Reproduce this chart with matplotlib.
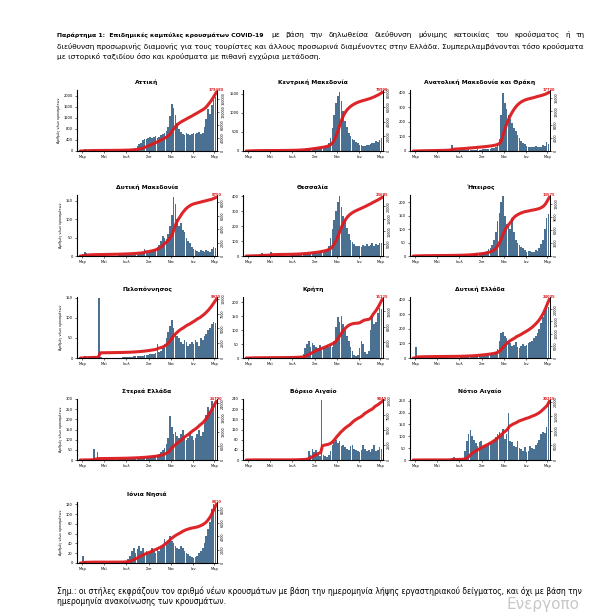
import matplotlib
matplotlib.use("Agg")
import matplotlib.pyplot as plt
from matplotlib.ticker import MaxNLocator
import numpy as np

plt.rcParams['font.family'] = ['DejaVu Sans']

# daily new cases, averaged over 5-day bins starting 25 Feb 2020
# (day numbers are counted from 1 Mar 2020)
bin_start = -5
bin_days = 5

month_ticks = [0, 61, 122, 184, 245, 306, 365]
month_labels = ["Μαρ", "Μαϊ", "Ιουλ", "Σεπ", "Νοε", "Ιαν", "Μαρ"]

attiki = [20, 45, 60, 50, 40, 30, 25,
          20, 15, 12, 10, 8, 8,
          8, 6, 6, 8, 10, 10,
          12, 15, 18, 20, 25, 30,
          35, 40, 50, 60, 80, 110,
          180, 240, 300, 380, 420, 450,
          480, 520, 460, 500, 540, 480,
          520, 560, 600, 650, 720, 880,
          1250, 1700, 1550, 1300, 1000,
          800, 700, 620, 580, 640, 600, 560, 620,
          660, 600, 640, 700, 620, 660,
          880, 1150, 1500, 1350, 1650, 1850,
          1950]

kentriki_makedonia = [5, 15, 25, 20, 15, 10, 8,
                      6, 5, 5, 4, 3, 3,
                      3, 3, 2, 3, 3, 4,
                      4, 5, 6, 6, 8, 10,
                      10, 12, 15, 20, 25, 30,
                      40, 50, 55, 60, 60, 65,
                      70, 75, 80, 70, 80, 90,
                      110, 140, 200, 350, 600, 950,
                      1250, 1450, 1550, 1300, 1050,
                      800, 620, 480, 400, 320, 280, 240, 200,
                      170, 150, 140, 130, 160, 150,
                      180, 200, 220, 250, 240, 300,
                      330]

an_makedonia_thraki = [0, 2, 4, 4, 3, 3, 2,
                       2, 2, 2, 1, 2, 3,
                       2, 2, 2, 3, 3, 4,
                       6, 12, 38, 14, 8, 6,
                       5, 6, 8, 8, 10, 12,
                       8, 10, 10, 9, 11, 10,
                       9, 11, 12, 14, 12, 15,
                       18, 22, 28, 40, 80, 250,
                       400, 330, 290, 250, 220,
                       190, 160, 140, 110, 90, 70, 55, 45,
                       35, 30, 28, 25, 30, 35,
                       30, 25, 30, 40, 35, 60,
                       45]

dyt_makedonia = [2, 6, 12, 8, 5, 3, 2,
                 2, 1, 1, 1, 1, 1,
                 1, 1, 1, 1, 1, 1,
                 1, 1, 2, 2, 2, 2,
                 2, 2, 3, 3, 3, 4,
                 4, 5, 6, 8, 20, 8,
                 8, 10, 12, 15, 20, 25,
                 30, 40, 55, 50, 45, 60,
                 80, 110, 160, 140, 100,
                 80, 90, 70, 65, 50, 40, 35, 25,
                 18, 15, 14, 12, 15, 14,
                 12, 15, 14, 12, 18, 25,
                 22]

thessalia = [1, 3, 5, 6, 4, 3, 3,
             8, 18, 6, 4, 3, 8,
             30, 10, 4, 3, 3, 3,
             2, 2, 2, 3, 3, 4,
             4, 5, 5, 6, 8, 10,
             10, 12, 14, 15, 16, 18,
             18, 20, 22, 25, 28, 30,
             35, 45, 70, 120, 180, 240,
             300, 360, 400, 330, 270,
             240, 190, 150, 110, 95, 80, 70, 65,
             70, 60, 75, 65, 80, 70,
             75, 85, 70, 80, 75, 90,
             85]

ipeiros = [1, 2, 3, 3, 2, 2, 1,
           1, 1, 1, 1, 1, 1,
           1, 1, 1, 0, 1, 1,
           1, 1, 1, 1, 2, 2,
           2, 3, 3, 3, 4, 5,
           5, 6, 8, 10, 8, 8,
           10, 12, 15, 18, 25, 30,
           40, 60, 90, 130, 160, 200,
           225, 150, 120, 110, 100,
           140, 90, 60, 50, 40, 35, 30, 22,
           15, 18, 20, 14, 16, 22,
           20, 30, 45, 60, 100, 140,
           155]

peloponnisos = [1, 3, 4, 3, 2, 2, 2,
                2, 2, 3, 150, 2, 1,
                1, 1, 1, 1, 1, 1,
                1, 1, 1, 1, 2, 2,
                2, 2, 3, 3, 4, 4,
                5, 5, 6, 6, 7, 8,
                8, 9, 10, 10, 12, 34,
                14, 18, 25, 35, 50, 65,
                80, 95, 75, 60, 55,
                50, 40, 35, 45, 40, 30, 35, 40,
                35, 45, 40, 30, 50, 45,
                55, 60, 70, 75, 85, 90,
                88]

kriti = [0, 2, 3, 3, 2, 1, 1,
         1, 1, 1, 0, 0, 1,
         0, 0, 1, 0, 1, 1,
         1, 1, 1, 1, 2, 2,
         2, 3, 3, 4, 5, 8,
         15, 35, 50, 62, 40, 55,
         48, 40, 35, 45, 30, 40,
         35, 45, 38, 50, 40, 60,
         110, 145, 130, 150, 120,
         100, 80, 60, 40, 25, 12, 8, 10,
         35, 60, 50, 20, 15, 25,
         100, 150, 120, 130, 160, 180,
         175]

dyt_ellada = [5, 75, 10, 6, 5, 4, 3,
              2, 2, 2, 2, 2, 2,
              1, 1, 1, 1, 2, 1,
              1, 1, 2, 2, 2, 3,
              3, 4, 4, 5, 6, 7,
              8, 9, 10, 12, 12, 14,
              14, 15, 16, 18, 20, 22,
              25, 30, 40, 60, 120, 170,
              180, 150, 140, 120, 100,
              80, 90, 110, 75, 70, 85, 95, 80,
              90, 100, 110, 120, 140, 150,
              170, 200, 240, 280, 330, 370,
              350]

sterea_ellada = [1, 2, 4, 3, 2, 3, 4,
                 55, 5, 38, 3, 2, 2,
                 2, 1, 1, 1, 2, 2,
                 2, 2, 3, 3, 3, 4,
                 4, 5, 5, 6, 6, 8,
                 8, 9, 10, 10, 12, 12,
                 14, 15, 16, 18, 20, 25,
                 30, 40, 50, 60, 80, 110,
                 215, 160, 130, 140, 120,
                 110, 130, 150, 120, 100, 110, 140, 120,
                 100, 110, 130, 150, 120, 140,
                 180, 220, 260, 240, 290, 270,
                 280]

voreio_aigaio = [0, 1, 1, 1, 1, 0, 0,
                 0, 0, 0, 0, 0, 0,
                 0, 0, 0, 0, 0, 0,
                 0, 0, 0, 0, 0, 1,
                 1, 1, 1, 2, 2, 3,
                 3, 5, 8, 35, 20, 45,
                 30, 40, 25, 15, 235, 20,
                 15, 12, 20, 35, 60, 70,
                 80, 65, 75, 55, 60,
                 50, 45, 40, 55, 60, 45, 40, 35,
                 30, 40, 60, 45, 35, 40,
                 30, 45, 60, 35, 40, 50,
                 45]

notio_aigaio = [0, 1, 2, 1, 1, 1, 0,
                0, 0, 0, 0, 0, 0,
                0, 0, 0, 0, 1, 1,
                1, 1, 8, 12, 6, 3,
                4, 5, 10, 40, 80, 110,
                125, 100, 85, 70, 60, 75,
                80, 55, 65, 60, 70, 75,
                70, 85, 95, 110, 120, 100,
                130, 90, 110, 200, 80,
                75, 60, 55, 80, 50, 45, 40, 55,
                35, 40, 60, 50, 45, 65,
                70, 85, 110, 120, 115, 140,
                250]

ionia_nisia = [1, 15, 4, 2, 1, 1, 1,
               1, 0, 0, 0, 0, 0,
               0, 0, 0, 0, 0, 0,
               0, 0, 1, 1, 2, 3,
               5, 8, 15, 25, 30, 20,
               28, 35, 25, 30, 20, 25,
               18, 22, 30, 25, 20, 28,
               25, 30, 35, 50, 40, 45,
               55, 45, 40, 35, 30,
               28, 35, 30, 25, 20, 18, 15, 12,
               10, 12, 15, 20, 25, 30,
               40, 55, 70, 85, 110, 120,
               115]

panels = [
    ("Αττική", attiki, 2200, 400),
    ("Κεντρική Μακεδονία", kentriki_makedonia, 1600, 500),
    ("Ανατολική Μακεδονία και Θράκη", an_makedonia_thraki, 420, 100),
    ("Δυτική Μακεδονία", dyt_makedonia, 165, 50),
    ("Θεσσαλία", thessalia, 410, 100),
    ("Ήπειρος", ipeiros, 227, 50),
    ("Πελοπόννησος", peloponnisos, 152, 50),
    ("Κρήτη", kriti, 218, 50),
    ("Δυτική Ελλάδα", dyt_ellada, 420, 100),
    ("Στερεά Ελλάδα", sterea_ellada, 300, 50),
    ("Βόρειο Αιγαίο", voreio_aigaio, 240, 40),
    ("Νότιο Αιγαίο", notio_aigaio, 257, 50),
    ("Ιόνια Νησιά", ionia_nisia, 125, 20),
]

header_bold = "Παράρτημα 1:  Επιδημικές καμπύλες κρουσμάτων COVID-19"
header_lines = [
    "με βάση την δηλωθείσα διεύθυνση μόνιμης κατοικίας του κρούσματος ή τη",
    "διεύθυνση προσωρινής διαμονής για τους τουρίστες και άλλους προσωρινά διαμένοντες στην Ελλάδα. Συμπεριλαμβάνονται τόσο κρούσματα",
    "με ιστορικό ταξιδίου όσο και κρούσματα με πιθανή εγχώρια μετάδοση.",
]
footnote_lines = [
    "Σημ.: οι στήλες εκφράζουν τον αριθμό νέων κρουσμάτων με βάση την ημερομηνία λήψης εργαστηριακού δείγματος, και όχι με βάση την",
    "ημερομηνία ανακοίνωσης των κρουσμάτων.",
]

BAR = "#4b7192"
RED = "#dc1a1e"
W, H = 600, 614

col_left = [77, 243, 410]
row_top = [90, 195, 297, 399, 502]
ax_w, ax_h = 140, 61

fig = plt.figure(figsize=(W / 100, H / 100), dpi=100)
fig.patch.set_facecolor("white")

for i, (title, values, ymax, ystep) in enumerate(panels):
    r, c = divmod(i, 3)
    x0, y0 = col_left[c], row_top[r]
    ax = fig.add_axes([x0 / W, 1 - (y0 + ax_h) / H, ax_w / W, ax_h / H])
    values = np.array(values, dtype=float)
    days = bin_start + bin_days * np.arange(len(values)) + bin_days / 2

    ax.bar(days, values, width=bin_days * 0.92, color=BAR, linewidth=0)
    ax.set_xlim(-14, 372)
    ax.set_ylim(0, ymax)
    ax.set_yticks(np.arange(0, ymax + 1, ystep))
    ax.set_xticks(month_ticks)
    ax.set_xticklabels(month_labels)
    ax.tick_params(labelsize=2.6, length=1.5, width=0.4, pad=1.5)
    ax.spines["top"].set_visible(False)
    for s in ["left", "bottom", "right"]:
        ax.spines[s].set_linewidth(0.6)
    ax.set_title(title, fontsize=4.3, fontweight="bold", pad=4)
    if c == 0:
        ax.set_ylabel("Αριθμός νέων κρουσμάτων", fontsize=2.4, labelpad=2)

    # cumulative cases on the right axis
    ax2 = ax.twinx()
    cum = np.concatenate([[0], np.cumsum(values) * bin_days])
    cum_days = np.concatenate([[bin_start], days + bin_days / 2])
    ax2.plot(cum_days, cum, color=RED, lw=2.2, alpha=0.95, solid_capstyle="round")
    ax2.set_ylim(0, cum[-1] * 1.04)
    ax2.yaxis.set_major_locator(MaxNLocator(5, integer=True))
    ax2.tick_params(labelsize=2.4, length=1.5, width=0.4, pad=1.5)
    for lab in ax2.get_yticklabels():
        lab.set_rotation(90)
        lab.set_va("center")
    ax2.spines["top"].set_visible(False)
    ax2.spines["right"].set_linewidth(0.6)
    ax2.text(cum_days[-1], cum[-1] * 1.01, f"{int(cum[-1])}", color=RED,
             fontsize=2.6, fontweight="bold", ha="center", va="bottom", clip_on=False)

renderer = fig.canvas.get_renderer()


def text_width(text, fs, **kw):
    t = fig.text(0, 0, text, fontsize=fs, **kw)
    w = t.get_window_extent(renderer).width
    t.remove()
    return w


def size_for(text, width_px, **kw):
    # glyph widths do not scale linearly at small sizes, so refine a few times
    fs = 5.0
    for _ in range(6):
        fs *= width_px / text_width(text, fs, **kw)
    return fs


def justify(x_px, y_px, text, width_px, fs, **kw):
    # spread the words of one line over the given width
    words = text.split()
    widths = [text_width(wd, fs, **kw) for wd in words]
    gap = (width_px - sum(widths)) / (len(words) - 1)
    x = x_px
    for wd, w in zip(words, widths):
        fig.text(x / W, 1 - y_px / H, wd, fontsize=fs, va="center", ha="left", **kw)
        x += w + gap


fs = size_for(header_lines[1], 528)
fs_bold = size_for(header_bold, 207, fontweight="bold")

fig.text(57 / W, 1 - 35 / H, header_bold, fontsize=fs_bold, fontweight="bold",
         va="center", ha="left")
justify(271, 35, header_lines[0], 314, fs)
fig.text(57 / W, 1 - 46 / H, header_lines[1], fontsize=fs, va="center", ha="left")
fig.text(57 / W, 1 - 57 / H, header_lines[2], fontsize=fs, va="center", ha="left")

# footnote
fs_note = size_for(footnote_lines[0], 524)
fig.text(57 / W, 1 - 591 / H, footnote_lines[0], fontsize=fs_note, va="center", ha="left")
fig.text(57 / W, 1 - 601 / H, footnote_lines[1], fontsize=fs_note, va="center", ha="left")

# faint system watermark in the corner of the page
fig.text(506 / W, 1 - 604 / H, "Ενεργοπο", fontsize=11, color="#c8c8c8",
         va="center", ha="left")

fig.savefig("out.png", dpi=100, facecolor="white")
